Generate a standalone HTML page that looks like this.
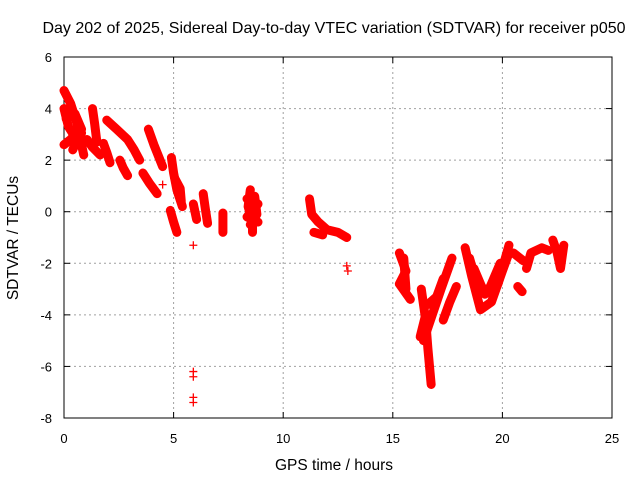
<!DOCTYPE html>
<html><head><meta charset="utf-8"><style>
body{margin:0;background:#fff}
svg{display:block;font-family:"Liberation Sans",sans-serif}
</style></head><body>
<svg id="c" width="640" height="480" viewBox="0 0 640 480"></svg>
<script>
const xTicks=[0,5,10,15,20,25];
const yTicks=[6,4,2,0,-2,-4,-6,-8];
// tracks of [hour, TECU] samples
const tracks=[
[[0,4.7],[0.3,4.2],[0.6,3.4],[0.9,2.2]],
[[0,4.0],[0.2,3.3],[0.5,2.9],[0.8,3.05]],
[[0,2.6],[0.3,2.8],[0.6,3.1]],
[[0.1,3.6],[0.5,3.8],[0.8,3.2],[0.4,2.4]],
[[1.3,4.0],[1.4,3.4],[1.5,2.7]],
[[1.05,2.8],[1.3,2.5],[1.65,2.2]],
[[1.8,2.65],[1.95,2.3],[2.1,1.9]],
[[1.95,3.55],[2.4,3.2],[2.9,2.8],[3.2,2.4],[3.45,2.0]],
[[2.55,2.0],[2.7,1.7],[2.9,1.4]],
[[3.85,3.2],[4.1,2.6],[4.5,1.75]],
[[3.6,1.5],[3.9,1.1],[4.25,0.7]],
[[4.9,2.1],[5.0,1.5],[5.15,0.85],[5.4,0.2]],
[[5.05,1.3],[5.3,0.9],[5.35,0.4]],
[[4.85,0.05],[5.0,-0.4],[5.15,-0.8]],
[[5.9,0.3],[6.05,-0.3]],
[[6.35,0.7],[6.45,0.1],[6.55,-0.45]],
[[7.25,-0.05],[7.25,-0.8]],
[[8.5,0.85],[8.4,0.2],[8.6,-0.4],[8.6,-0.8]],
[[8.7,0.6],[8.8,-0.1],[8.5,-0.5]],
[[8.35,0.5],[8.85,0.3],[8.35,-0.2],[8.85,-0.4]],
[[11.2,0.5],[11.3,-0.1],[11.6,-0.4],[12.0,-0.7],[12.5,-0.8],[12.9,-1.0]],
[[11.4,-0.8],[11.8,-0.9]],
[[15.3,-1.6],[15.6,-2.3],[15.3,-2.8],[15.8,-3.4]],
[[15.5,-1.8],[15.6,-3.0]],
[[16.3,-3.0],[16.5,-4.2],[16.6,-5.3],[16.75,-6.7]],
[[16.25,-4.85],[16.5,-4.0]],
[[16.4,-5.0],[16.8,-4.0],[17.2,-3.0],[17.7,-1.8]],
[[16.6,-3.6],[17.0,-3.3],[17.3,-2.6]],
[[17.3,-4.2],[17.6,-3.5],[17.9,-2.9]],
[[18.3,-1.4],[18.6,-2.5],[19.0,-3.8],[19.5,-3.5],[20.0,-2.3],[20.3,-1.6]],
[[18.7,-2.2],[19.2,-3.2],[19.8,-2.8],[20.3,-1.3]],
[[18.5,-1.8],[18.9,-3.0],[19.4,-3.0],[19.9,-2.0]],
[[20.7,-2.9],[20.9,-3.1]],
[[20.5,-1.6],[20.95,-1.9]],
[[21.1,-2.2],[21.3,-1.6],[21.8,-1.4],[22.1,-1.5]],
[[22.3,-1.1],[22.5,-1.6],[22.65,-2.2],[22.8,-1.3]]
];
const isolated=[[4.5,1.05],[5.9,-1.3],[5.9,-6.2],[5.9,-6.4],[5.9,-7.2],[5.9,-7.4],[12.9,-2.1],[12.95,-2.3]];
const L=64,R=612,T=57,B=418;
const X=h=>L+(h-0)/25*(R-L);
const Y=v=>T+(6-v)/14*(B-T);
const svg=document.getElementById('c');
const NS='http://www.w3.org/2000/svg';
function mk(tag,attrs,parent){const e=document.createElementNS(NS,tag);for(const k in attrs)e.setAttribute(k,attrs[k]);(parent||svg).appendChild(e);return e;}
const grid=mk('g',{});


xTicks.forEach(t=>{if(t>0&&t<25)mk('line',{x1:X(t),x2:X(t),y1:T,y2:B,stroke:'#a0a0a0','stroke-dasharray':'2,3'},grid);
 const tx=mk('text',{x:X(t),y:443,'text-anchor':'middle','font-size':13,fill:'#000'});tx.textContent=t;
 
 
 mk('line',{x1:X(t),x2:X(t),y1:B,y2:B-6,stroke:'#000'});mk('line',{x1:X(t),x2:X(t),y1:T,y2:T+6,stroke:'#000'});});
yTicks.forEach(t=>{if(t<6&&t>-8)mk('line',{x1:L,x2:R,y1:Y(t),y2:Y(t),stroke:'#a0a0a0','stroke-dasharray':'2,3'},grid);
 const tx=mk('text',{x:52,y:Y(t)+5,'text-anchor':'end','font-size':13,fill:'#000'});tx.textContent=t;
 
 
 mk('line',{x1:L,x2:L+6,y1:Y(t),y2:Y(t),stroke:'#000'});mk('line',{x1:R,x2:R-6,y1:Y(t),y2:Y(t),stroke:'#000'});});
const frame=mk('rect',{x:L,y:T,width:R-L,height:B-T,fill:'none',stroke:'#000'});


const g=mk('g',{fill:'none',stroke:'#ff0000'});


tracks.forEach(tr=>{
 const p=mk('polyline',{points:tr.map(d=>X(d[0])+','+Y(d[1])).join(' '),'stroke-width':9,'stroke-linejoin':'round','stroke-linecap':'round'},g);
 
 
 tr.forEach(d=>plus(d));
});
function plus(d){const x=X(d[0]),y=Y(d[1]);const m=mk('path',{d:`M${x-4},${y}H${x+4}M${x},${y-4}V${y+4}`,'stroke-width':1.3},g);
 
 }
isolated.forEach(plus);
const t1=mk('text',{x:334,y:33,'text-anchor':'middle','font-size':16,fill:'#000'});t1.textContent='Day 202 of 2025, Sidereal Day-to-day VTEC variation (SDTVAR) for receiver p050';


const t2=mk('text',{x:334,y:470,'text-anchor':'middle','font-size':15.5,fill:'#000'});t2.textContent='GPS time / hours';


const t3=mk('text',{x:18,y:238,'text-anchor':'middle','font-size':15.5,fill:'#000',transform:'rotate(-90 18 238)'});t3.textContent='SDTVAR / TECUs';


</script>
</body></html>
